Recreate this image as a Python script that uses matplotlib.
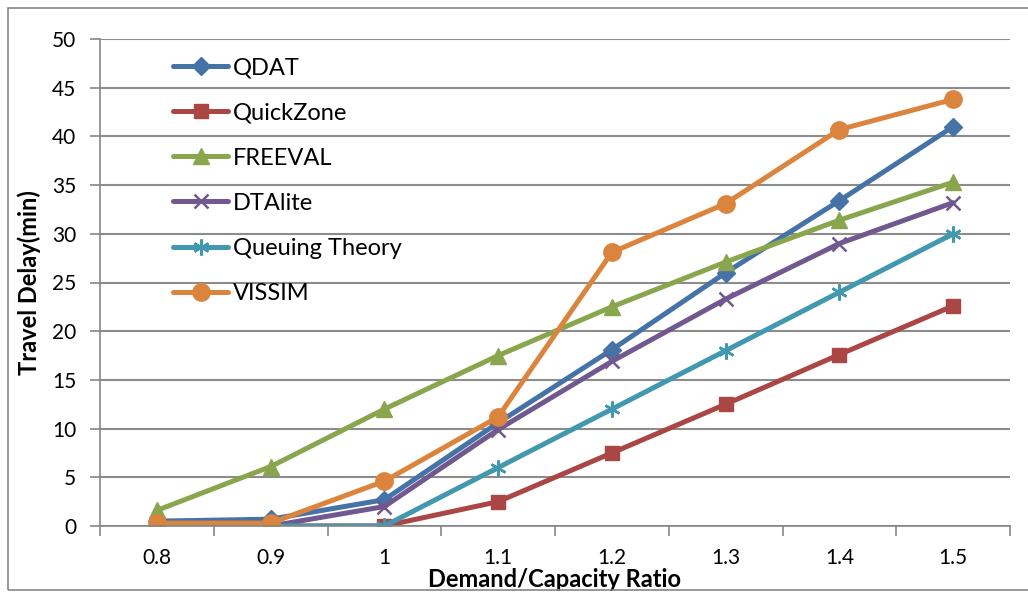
import numpy as np
import matplotlib.pyplot as plt
from matplotlib.patches import Rectangle
from matplotlib.ticker import FixedLocator, NullFormatter

plt.rcParams['font.family'] = ['Lato', 'DejaVu Sans']

# Data
ratios = ['0.8', '0.9', '1', '1.1', '1.2', '1.3', '1.4', '1.5']
qdat = [0.5, 0.7, 2.7, 10.6, 18.1, 26.0, 33.4, 41.0]
quickzone = [0.0, 0.0, 0.0, 2.5, 7.5, 12.5, 17.6, 22.6]
freeval = [1.6, 6.1, 12.0, 17.5, 22.5, 27.1, 31.4, 35.3]
dtalite = [0.0, 0.0, 2.0, 9.9, 16.9, 23.3, 29.0, 33.2]
queuing = [0.0, 0.0, 0.0, 6.0, 12.0, 18.0, 24.0, 30.0]
vissim = [0.3, 0.3, 4.6, 11.2, 28.1, 33.1, 40.7, 43.8]

series = [
    ('QDAT', qdat, '#4572A7', 'D', 9.5),
    ('QuickZone', quickzone, '#AA4643', 's', 10),
    ('FREEVAL', freeval, '#89A54E', '^', 11.5),
    ('DTAlite', dtalite, '#71588F', 'x', 10.5),
    ('Queuing Theory', queuing, '#4198AF', (6, 2, 0), 11.5),
    ('VISSIM', vissim, '#DB843D', 'o', 12.5),
]

fig = plt.figure(figsize=(10.28, 5.94), dpi=100)
ax = fig.add_axes([100 / 1028, 1 - 526 / 594, 910 / 1028, 487 / 594])

# outer chart frame
fig.patches.append(Rectangle((8 / 1028, 1 - 590 / 594), 1.1, 582 / 594,
                             transform=fig.transFigure, fill=False,
                             edgecolor='#868686', linewidth=1.2))

x = np.arange(len(ratios))
for name, vals, color, marker, ms in series:
    mew = 1.8 if marker in ('x', (6, 2, 0)) else 1
    ax.plot(x, vals, color=color, linewidth=3.6, marker=marker, markersize=ms,
            markeredgecolor=color, markerfacecolor=color, markeredgewidth=mew,
            label=name, solid_capstyle='round')

ax.set_xlim(-0.5, len(ratios) - 0.5)
ax.set_ylim(0, 50)
ax.set_yticks(np.arange(0, 51, 5))
ax.set_xticks(x)
ax.set_xticklabels(ratios)
ax.xaxis.set_minor_locator(FixedLocator(np.arange(-0.5, len(ratios), 1)))
ax.xaxis.set_minor_formatter(NullFormatter())
ax.tick_params(axis='x', which='major', length=0, labelsize=15, pad=16)
ax.tick_params(axis='x', which='minor', length=7, width=1.2, color='#868686')
ax.tick_params(axis='y', length=7, width=1.2, color='#868686', labelsize=15, pad=10)

ax.grid(axis='y', color='#8c8c8c', linewidth=1.5)
ax.set_axisbelow(True)
for side in ('top', 'right'):
    ax.spines[side].set_visible(False)
for side in ('left', 'bottom'):
    ax.spines[side].set_color('#868686')
    ax.spines[side].set_linewidth(1.2)

ax.set_xlabel('Demand/Capacity Ratio', fontsize=17, fontweight='bold', labelpad=0)
ax.set_ylabel('Travel Delay(min)', fontsize=17, fontweight='bold', labelpad=8)

ax.legend(loc='upper left', bbox_to_anchor=(0.08, 0.962), frameon=False,
          fontsize=17, handlelength=2.35, numpoints=1, labelspacing=1.02,
          handletextpad=0.2, borderaxespad=0, borderpad=0)

fig.savefig('out.png', dpi=100)
